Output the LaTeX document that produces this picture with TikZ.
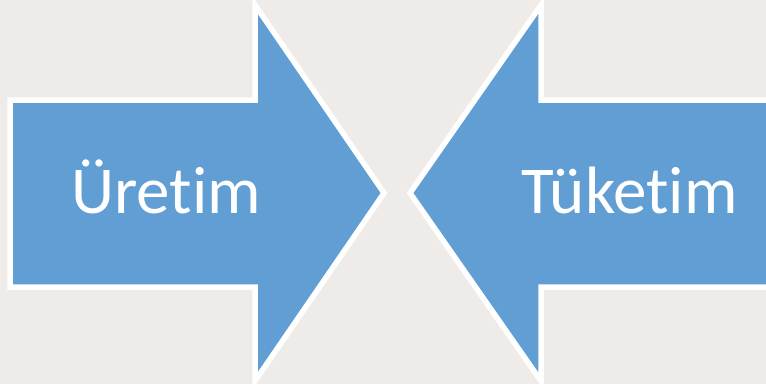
\documentclass[tikz,border=0pt]{standalone}
\usepackage{fontspec}
\setmainfont{Carlito}[Ligatures={NoCommon,NoContextual}]
\definecolor{paper}{HTML}{EEEBE8}
\definecolor{arrowblue}{HTML}{619ED3}
\tikzset{
  blockarrow/.style={fill=arrowblue, draw=white, line width=5.5pt, line join=miter, miter limit=20},
  label/.style={text=white, anchor=base, inner sep=0pt, font=\fontsize{67}{67}\selectfont}
}
\begin{document}
\begin{tikzpicture}[x=1pt,y=-1pt]
\useasboundingbox (0,0) rectangle (766,384);
\clip (0,0) rectangle (766,384);
\fill[paper] (0,0) rectangle (766,384);
% left arrow
\draw[blockarrow] (10,100) -- (255,100) -- (255,5) -- (384,193) -- (255,381) -- (255,287) -- (10,287) -- cycle;
% right arrow
\draw[blockarrow] (780,100) -- (541,100) -- (541,5) -- (410,193) -- (541,381) -- (541,287) -- (780,287) -- cycle;
\node[label] (uretim) at (166,213) {Üretim};
\node[label] (tuketim) at (629.5,213) {Tüketim};
\end{tikzpicture}
\end{document}
